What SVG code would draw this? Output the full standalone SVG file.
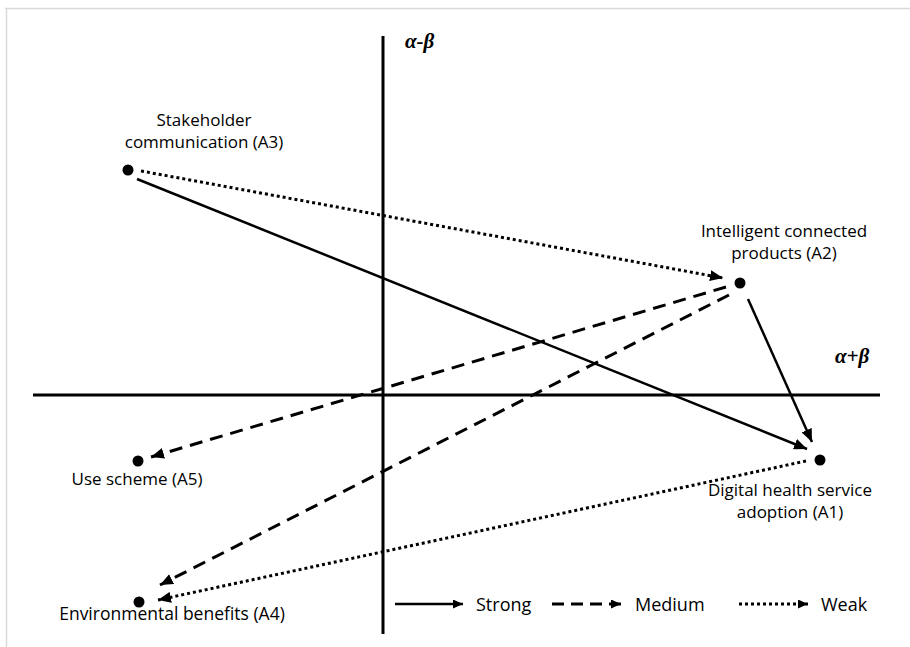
<svg xmlns="http://www.w3.org/2000/svg" width="910" height="647" viewBox="0 0 910 647">
<defs>
<style>
.lbl{font-family:"Open Sans","Liberation Sans",sans-serif;font-size:17px;fill:#000;text-anchor:middle}
.leg{font-family:"Open Sans","Liberation Sans",sans-serif;font-size:18px;fill:#000}
.greek{font-family:"Liberation Serif","Times New Roman",serif;font-size:21px;font-weight:bold;font-style:italic;fill:#000}
.axis{stroke:#000;stroke-width:3;fill:none}
.solid{stroke:#000;stroke-width:2.5;fill:none}
.dash{stroke:#000;stroke-width:3;fill:none;stroke-dasharray:13 8}
.dot{stroke:#000;stroke-width:3;fill:none;stroke-dasharray:3 3}
.border{stroke:#d9d9d9;stroke-width:1.5;fill:none}
</style>
<marker id="ah" viewBox="0 0 13 11" refX="13" refY="5.5" markerWidth="13" markerHeight="11" markerUnits="userSpaceOnUse" orient="auto">
<path d="M0,0 L13,5.5 L0,11 Z" fill="#000"/>
</marker>
<marker id="ahs" viewBox="0 0 10 9" refX="10" refY="4.5" markerWidth="10" markerHeight="9" markerUnits="userSpaceOnUse" orient="auto">
<path d="M0,0 L10,4.5 L0,9 Z" fill="#000"/>
</marker>
</defs>
<rect width="910" height="647" fill="#fff"/>
<g id="frame">
<line class="border" x1="5" y1="8.5" x2="910" y2="8.5"/>
<line class="border" x1="6.5" y1="8" x2="6.5" y2="647"/>
</g>
<g id="axes">
<line class="axis" x1="383" y1="36" x2="383" y2="634"/>
<line class="axis" x1="33" y1="395" x2="880" y2="395"/>
<text class="greek" x="405" y="48">α-β</text>
<text class="greek" x="835" y="363">α+β</text>
</g>
<g id="connectors">
<line class="solid" x1="137" y1="179" x2="807" y2="449" marker-end="url(#ah)"/>
<line class="dot" x1="141" y1="171" x2="723" y2="278" marker-end="url(#ah)"/>
<line class="solid" x1="748" y1="299" x2="812" y2="442" marker-end="url(#ah)"/>
<line class="dash" x1="726" y1="287" x2="151" y2="457" marker-end="url(#ah)"/>
<line class="dash" x1="729" y1="295" x2="160" y2="585" marker-end="url(#ah)"/>
<line class="dot" x1="806" y1="461" x2="158" y2="600" marker-end="url(#ah)"/>
</g>
<g id="A3">
<circle cx="128" cy="170" r="5.5"/>
<text class="lbl" x="204" y="126">Stakeholder</text>
<text class="lbl" x="204" y="148">communication (A3)</text>
</g>
<g id="A2">
<circle cx="740" cy="283" r="5.5"/>
<text class="lbl" x="784" y="237">Intelligent connected</text>
<text class="lbl" x="784" y="259">products (A2)</text>
</g>
<g id="A1">
<circle cx="820" cy="460" r="5.5"/>
<text class="lbl" x="790" y="496">Digital health service</text>
<text class="lbl" x="790" y="518">adoption (A1)</text>
</g>
<g id="A5">
<circle cx="138" cy="461" r="5.5"/>
<text class="lbl" x="137" y="485">Use scheme (A5)</text>
</g>
<g id="A4">
<circle cx="139" cy="602" r="5.5"/>
<text class="lbl" x="172" y="620" style="font-size:17.5px">Environmental benefits (A4)</text>
</g>
<g id="legend">
<line class="solid" x1="395" y1="604" x2="463" y2="604" marker-end="url(#ahs)"/>
<text class="leg" x="476" y="611">Strong</text>
<line class="dash" x1="552" y1="604" x2="621" y2="604" marker-end="url(#ahs)" style="stroke-dasharray:12 7"/>
<text class="leg" x="635" y="611">Medium</text>
<line class="dot" x1="739" y1="604" x2="808" y2="604" marker-end="url(#ahs)"/>
<text class="leg" x="821" y="611">Weak</text>
</g>
</svg>
